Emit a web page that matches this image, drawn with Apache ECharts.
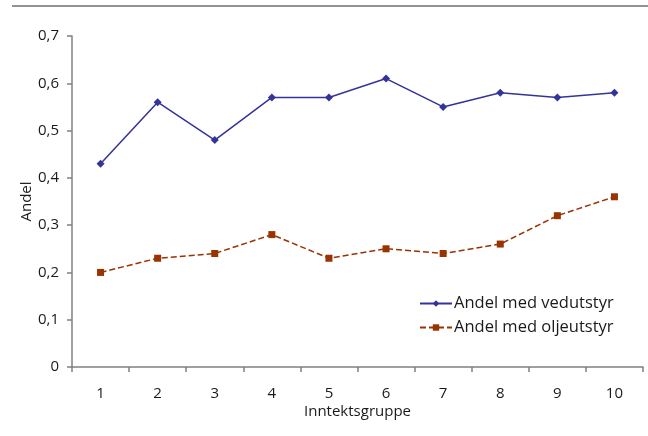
<!DOCTYPE html>
<html>
<head>
<meta charset="utf-8">
<script src="https://cdn.jsdelivr.net/npm/echarts@6/dist/echarts.min.js"></script>
<style>
  html, body { margin: 0; padding: 0; background: #fff; }
  #chart { width: 648px; height: 436px; }
</style>
</head>
<body>
<div id="chart"></div>
<script>
// Income groups and the share of households with each heating equipment
const categories = ['1', '2', '3', '4', '5', '6', '7', '8', '9', '10'];
const vedutstyr = [0.43, 0.56, 0.48, 0.57, 0.57, 0.61, 0.55, 0.58, 0.57, 0.58];
const oljeutstyr = [0.20, 0.23, 0.24, 0.28, 0.23, 0.25, 0.24, 0.26, 0.32, 0.36];
const seriesNames = ['Andel med vedutstyr', 'Andel med oljeutstyr'];

const FONT = 'Open Sans';
const AXIS_COLOR = '#808080';
const TEXT_COLOR = '#1a1a1a';

const chart = echarts.init(document.getElementById('chart'), null, { renderer: 'canvas' });

chart.setOption({
  backgroundColor: '#ffffff',
  animation: false,
  graphic: [{
    type: 'line',
    shape: { x1: 12, y1: 6, x2: 648, y2: 6 },
    style: { stroke: '#6e6e6e', lineWidth: 1.5 }
  }],
  grid: { left: 72, right: 5, top: 36, bottom: 69 },
  legend: {
    orient: 'vertical',
    left: 414,
    top: 290,
    itemWidth: 32,
    itemHeight: 8,
    itemGap: 7,
    textStyle: { fontFamily: FONT, fontSize: 16.5, color: TEXT_COLOR, padding: [0, 0, 0, -3] },
    data: seriesNames
  },
  xAxis: {
    type: 'category',
    data: categories,
    boundaryGap: true,
    name: 'Inntektsgruppe',
    nameLocation: 'middle',
    nameGap: 37,
    nameMoveOverlap: false,
    nameTextStyle: { fontFamily: FONT, fontSize: 15, color: TEXT_COLOR },
    axisLine: { lineStyle: { color: AXIS_COLOR, width: 1.5 } },
    axisTick: { show: true, length: 5, lineStyle: { color: AXIS_COLOR, width: 1.5 }, alignWithLabel: false },
    axisLabel: { fontFamily: FONT, fontSize: 15, color: TEXT_COLOR, margin: 19 },
    splitLine: { show: false }
  },
  yAxis: {
    type: 'value',
    min: 0,
    max: 0.7,
    interval: 0.1,
    name: 'Andel',
    nameLocation: 'middle',
    nameRotate: 90,
    nameGap: 38,
    nameMoveOverlap: false,
    nameTextStyle: { fontFamily: FONT, fontSize: 15, color: TEXT_COLOR },
    axisLine: { show: true, lineStyle: { color: AXIS_COLOR, width: 1.5 } },
    axisTick: { show: true, length: 5, lineStyle: { color: AXIS_COLOR, width: 1.5 } },
    axisLabel: {
      fontFamily: FONT, fontSize: 15, color: TEXT_COLOR, margin: 13,
      formatter: v => (Math.round(v * 10) / 10).toString().replace('.', ',')
    },
    splitLine: { show: false }
  },
  series: [
    {
      name: seriesNames[0],
      type: 'line',
      data: vedutstyr,
      symbol: 'diamond',
      symbolSize: 8,
      color: '#333399',
      lineStyle: { color: '#333399', width: 1.5 },
      itemStyle: { color: '#333399' }
    },
    {
      name: seriesNames[1],
      type: 'line',
      data: oljeutstyr,
      symbol: 'rect',
      symbolSize: 7,
      color: '#993300',
      lineStyle: { color: '#993300', width: 1.5, type: [6, 3] },
      itemStyle: { color: '#993300' }
    }
  ]
});
</script>
</body>
</html>
